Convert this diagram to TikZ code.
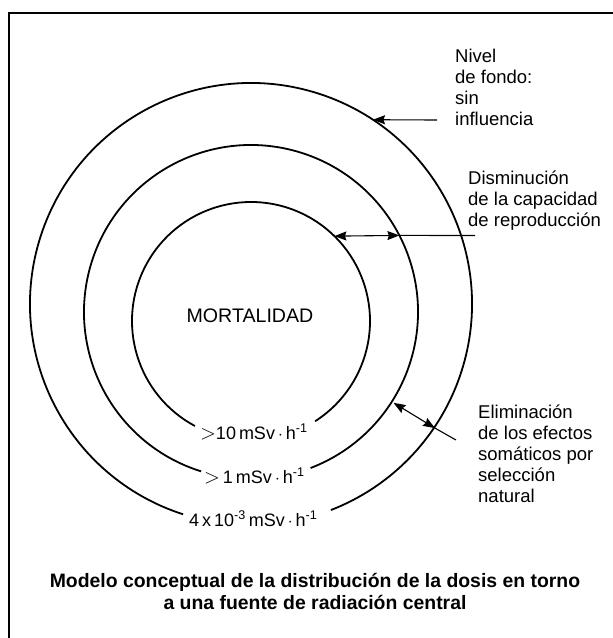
\documentclass[tikz,border=0pt]{standalone}
\usepackage{fontspec}
\setmainfont{Liberation Sans}
\usetikzlibrary{arrows.meta,calc}
\newcommand{\gtsign}{{\fontsize{22}{20}\selectfont$>$}}
\begin{document}
\begin{tikzpicture}[x=1pt,y=-1pt,
  ring/.style={line width=1.8pt},
  framestyle/.style={line width=1.4pt},
  lbl/.style={align=left, anchor=north west, inner sep=0pt, font=\fontsize{18.5}{21}\selectfont},
  dose/.style={anchor=base west, inner sep=0pt, font=\fontsize{18}{20}\selectfont},
  captionstyle/.style={align=center, anchor=north, inner sep=0pt, font=\bfseries\fontsize{19.4}{22}\selectfont},
  pointer/.style={line width=1.1pt},
  tip/.style={-{Stealth[length=12pt,width=9pt,inset=1.5pt]}},
  tips/.style={{Stealth[length=12pt,width=9pt,inset=1.5pt]}-{Stealth[length=12pt,width=9pt,inset=1.5pt]}}]
\useasboundingbox (0,0) rectangle (613,638);
% frame
\coordinate (fb) at (9,640);
\coordinate (fc) at (9,13);
\coordinate (fr) at (614,13);
\draw[framestyle] (fb) -- (fc) -- (fr);
% centres
\coordinate (Ci) at (251,321);
\coordinate (Cm) at (251,312);
\coordinate (Co) at (251,304);
% rings
\draw[ring] ($(Ci)+(118.1:119)$) arc[start angle=118.1, end angle=417.4, radius=119];
\draw[ring] ($(Cm)+(107.4:167)$) arc[start angle=107.4, end angle=429.1, radius=167];
\draw[ring] ($(Co)+(107.9:221)$) arc[start angle=107.9, end angle=428.8, radius=221];
% text
\node[font=\fontsize{19.6}{21}\selectfont, inner sep=0pt] (mort) at (250,316) {MORTALIDAD};
\node[dose] (d1) at (200,439) {\gtsign10\,mSv\,$\cdot$\,h\textsuperscript{-1}};
\node[dose] (d2) at (204,483) {\gtsign\,1\,mSv\,$\cdot$\,h\textsuperscript{-1}};
\node[dose] (d3) at (189,526) {4\,x\,10\textsuperscript{-3}\,mSv\,$\cdot$\,h\textsuperscript{-1}};
\node[lbl] (nivel) at (455,48.5) {Nivel\\de fondo:\\sin\\influencia};
\node[lbl] (dism) at (468,170.5) {Disminución\\de la capacidad\\de reproducción};
\node[lbl] (elim) at (478,404.5) {Eliminación\\de los efectos\\somáticos por\\selección\\natural};
\node[captionstyle] (caption) at (315,573.5) {Modelo conceptual de la distribución de la dosis en torno\\a una fuente de radiación central};
% pointer 1
\coordinate (n1) at ($(Co)+(-56.5:221)$);
\coordinate (n0) at (437,120);
\draw[pointer,tip] (n0) -- (n1);
% pointer 2
\coordinate (a1) at ($(Ci)+(-45.5:119)$);
\coordinate (a2) at ($(Cm)+(-27.3:167)$);
\coordinate (a3) at (475,235.5);
\draw[pointer,tips] (a1) -- (a2);
\draw[pointer] (a2) -- (a3);
% pointer 3
\coordinate (b1) at ($(Cm)+(32.5:169)$);
\coordinate (b2) at ($(Co)+(34:222)$);
\coordinate (b3) at (456,440);
\draw[pointer,tips] (b1) -- (b2);
\draw[pointer] (b2) -- (b3);
\end{tikzpicture}
\end{document}
